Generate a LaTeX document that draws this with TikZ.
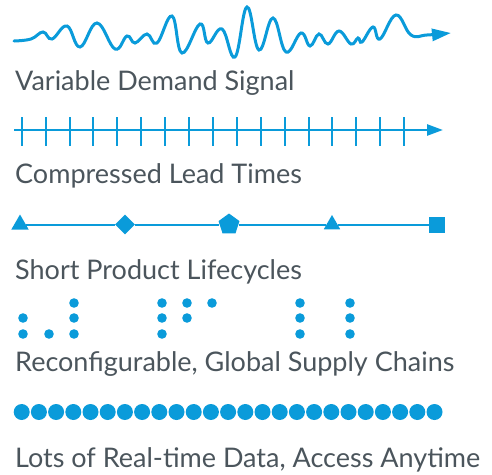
\documentclass[tikz,border=0pt]{standalone}
\usepackage{fontspec}
\setmainfont{Lato}
\usetikzlibrary{arrows.meta,shapes.geometric}
\definecolor{sigblue}{HTML}{0A9BDA}
\definecolor{capgray}{HTML}{4B555C}

\begin{document}
\begin{tikzpicture}[x=1pt,y=-1pt,
    blurb/.style={anchor=base west,inner sep=0pt,text=capgray,font=\fontsize{27}{32}\selectfont},
    stone/.style={fill=sigblue,inner sep=0pt}]
\useasboundingbox (0,0) rectangle (492,474);
\draw[sigblue,line width=3pt,line cap=round,-{Triangle[length=19pt,width=12pt]}] plot[smooth,tension=0.7] coordinates {(14,41) (31,39) (43,32) (52,39) (67,26) (80,47) (97,23) (115,49) (127,36) (135,43) (147,34) (157,43) (172,16) (182,53) (200,24) (208,43) (222,29) (235,57) (247,7) (259,50) (273,18) (286,52) (301,33) (310,46) (319,34) (328,44) (339,31) (351,44) (358,38) (362,42) (373,27) (380,39) (396,15) (411,35) (427,35) (451,33)};
\node[blurb] (vds) at (15,90) {Variable Demand Signal};
\draw[sigblue,line width=2.5pt,-{Triangle[length=16pt,width=11pt]}] (14,130)--(443,130);
\foreach\i in {0,...,16}{
    \draw[sigblue,line width=2pt] (21.7+23.9*\i,117)--++(0,29);
}
\node[blurb] (clt) at (15,183) {Compressed Lead Times};
\node[stone,regular polygon,regular polygon sides=3,minimum size=20pt] (lc1) at (20,224.5) {};
\node[stone,diamond,minimum size=20pt] (lc2) at (125,224.5) {};
\node[stone,regular polygon,regular polygon sides=5,minimum size=22pt] (lc3) at (229,224.5) {};
\node[stone,regular polygon,regular polygon sides=3,minimum size=19pt] (lc4) at (332,224.5) {};
\node[stone,minimum size=16pt] (lc5) at (437,224.5) {};
\draw[sigblue,line width=2pt] (lc1)--(lc2)--(lc3)--(lc4)--(lc5);
\node[blurb] (spl) at (15,279) {Short Product Lifecycles};
\foreach\x/\y in {23/318,23/334,49/334,74/303,74/318,74/334,162/303,162/318,162/334,187/303,187/318,212/303,300/303,300/318,300/334,350/303,350/318,350/334}{
    \fill[sigblue] (\x,\y) circle (4.8pt);
}
\node[blurb] (rgs) at (15,371.5) {Reconfigurable, Global Supply Chains};
\foreach\i in {0,...,24}{
    \fill[sigblue] (21.7+17.2*\i,412) circle (8pt);
}
\node[blurb] (rtd) at (15,467.5) {Lots of Real-time Data, Access Anytime};
\end{tikzpicture}
\end{document}
